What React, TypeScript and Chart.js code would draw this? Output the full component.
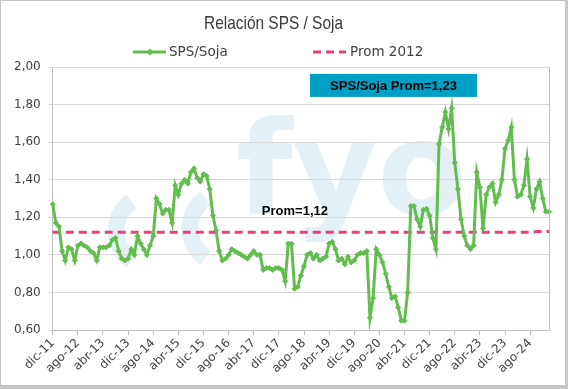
import React, { useEffect, useRef } from 'react';
import { Chart, registerables } from 'chart.js';

Chart.register(...registerables);

const monthNames = ['ene', 'feb', 'mar', 'abr', 'may', 'jun', 'jul', 'ago', 'sep', 'oct', 'nov', 'dic'];
const startMonthIndex = 11; // dic
const startYear = 11; // 2011

// Relación SPS / Soja, mensual desde dic-11
const spsSoja = [
  1.27, 1.17, 1.15, 1.02, 0.97, 1.04, 1.03, 0.97,
  1.05, 1.06, 1.05, 1.04, 1.02, 1.01, 0.97, 1.04,
  1.04, 1.04, 1.05, 1.08, 1.09, 1.02, 0.98, 0.97,
  0.98, 1.03, 1.00, 1.10, 1.06, 1.03, 1.00, 1.05,
  1.10, 1.30, 1.27, 1.22, 1.24, 1.24, 1.17, 1.37,
  1.32, 1.38, 1.40, 1.38, 1.44, 1.46, 1.41, 1.39,
  1.43, 1.42, 1.35, 1.21, 1.13, 1.02, 0.97, 0.98,
  1.00, 1.03, 1.02, 1.01, 1.00, 0.99, 0.98, 1.00,
  1.02, 1.00, 1.00, 0.92, 0.93, 0.93, 0.92, 0.93,
  0.93, 0.92, 0.86, 1.06, 1.06, 0.82, 0.83, 0.89,
  0.94, 1.00, 1.01, 0.98, 1.00, 0.97, 0.98, 0.99,
  1.06, 1.07, 1.03, 0.97, 0.98, 0.95, 0.99, 0.96,
  0.97, 1.00, 1.01, 1.01, 1.02, 0.665, 0.77, 1.03,
  1.00, 0.96, 0.90, 0.83, 0.77, 0.78, 0.72, 0.65,
  0.65, 0.80, 1.26, 1.26, 1.19, 1.15, 1.24, 1.245,
  1.21, 1.09, 1.03, 1.59, 1.68, 1.76, 1.67, 1.78,
  1.49, 1.35, 1.19, 1.10, 1.05, 1.03, 1.05, 1.44,
  1.36, 1.14, 1.32, 1.36, 1.38, 1.28, 1.32, 1.40,
  1.565, 1.61, 1.68, 1.40, 1.31, 1.32, 1.37, 1.51,
  1.31, 1.25, 1.35, 1.39, 1.30, 1.23, 1.23,
];

const promLevel = 1.12;
const promLevelEnd = 1.125;
const promEndFrom = 154;

const categories = spsSoja.map((_, i) => {
  const m = startMonthIndex + i;
  return `${monthNames[m % 12]}-${startYear + Math.floor(m / 12)}`;
});

const tickEvery = 8;
const tickLabels = categories.filter((_, i) => i % tickEvery === 0);
const promSeries = categories.map((_, i) => (i >= promEndFrom ? promLevelEnd : promLevel));

const yTicks = [0.6, 0.8, 1.0, 1.2, 1.4, 1.6, 1.8, 2.0];

const titleText = 'Relación SPS / Soja';
const seriesName = 'SPS/Soja';
const promName = 'Prom 2012';
const boxText = 'SPS/Soja Prom=1,23';
const promText = 'Prom=1,12';

const GREEN = '#62bd4f';
const PINK = '#e8417c';
const TEXT = '#404040';

const decorPlugin = {
  id: 'decor',
  beforeDraw(chart: any) {
    const { ctx, chartArea } = chart;
    ctx.save();
    ctx.fillStyle = '#ffffff';
    ctx.fillRect(0, 0, chart.width, chart.height);
    // watermark
    ctx.beginPath();
    ctx.rect(chartArea.left, chartArea.top, chartArea.right - chartArea.left, chartArea.bottom - chartArea.top);
    ctx.clip();
    const wm = '#e3f0f5';
    ctx.strokeStyle = wm;
    ctx.lineWidth = 17;
    ctx.beginPath();
    ctx.arc(152, 231, 36, (125 * Math.PI) / 180, (235 * Math.PI) / 180);
    ctx.stroke();
    ctx.beginPath();
    ctx.arc(226, 228, 36, (125 * Math.PI) / 180, (235 * Math.PI) / 180);
    ctx.stroke();
    ctx.fillStyle = wm;
    ctx.font = 'bold 130px "DejaVu Sans"';
    ctx.textBaseline = 'alphabetic';
    ctx.textAlign = 'left';
    ctx.fillText('fyo', 236, 214);
    ctx.restore();
  },
  afterDraw(chart: any) {
    const { ctx, chartArea, scales } = chart;
    ctx.save();
    // plot right border
    ctx.strokeStyle = '#bfbfbf';
    ctx.lineWidth = 1;
    ctx.beginPath();
    ctx.moveTo(Math.round(chartArea.right) + 0.5, chartArea.top);
    ctx.lineTo(Math.round(chartArea.right) + 0.5, chartArea.bottom);
    ctx.stroke();

    // title
    ctx.fillStyle = '#3a3a3a';
    ctx.font = '18.5px "Liberation Sans Narrow", "Liberation Sans", sans-serif';
    ctx.textBaseline = 'alphabetic';
    const tw = ctx.measureText(titleText).width;
    const target = 139;
    const sx = tw > target ? target / tw : 1;
    ctx.save();
    ctx.translate(273.5 - (tw * sx) / 2, 28.5);
    ctx.scale(sx, 1);
    ctx.fillText(titleText, 0, 0);
    ctx.restore();

    // legend
    const ly = 52;
    ctx.font = '13.5px "DejaVu Sans"';
    ctx.textBaseline = 'middle';
    ctx.fillStyle = TEXT;
    ctx.strokeStyle = GREEN;
    ctx.lineWidth = 3;
    ctx.beginPath();
    ctx.moveTo(133, ly);
    ctx.lineTo(166, ly);
    ctx.stroke();
    ctx.fillStyle = GREEN;
    ctx.beginPath();
    ctx.moveTo(150, ly - 3.5);
    ctx.lineTo(153.5, ly);
    ctx.lineTo(150, ly + 3.5);
    ctx.lineTo(146.5, ly);
    ctx.closePath();
    ctx.fill();
    ctx.fillStyle = TEXT;
    ctx.fillText(seriesName, 169, ly);
    ctx.strokeStyle = PINK;
    ctx.setLineDash([8, 5]);
    ctx.beginPath();
    ctx.moveTo(313, ly);
    ctx.lineTo(346, ly);
    ctx.stroke();
    ctx.setLineDash([]);
    ctx.fillText(promName, 350, ly);

    // annotations anchored on data coordinates
    const xS = scales.x;
    const yS = scales.y;
    const bx = xS.getPixelForValue(108.5);
    const by = yS.getPixelForValue(1.902);
    ctx.fillStyle = '#00a0c6';
    ctx.fillRect(bx - 83.5, by - 11.5, 167, 23);
    ctx.fillStyle = '#000000';
    ctx.font = 'bold 13px "Liberation Sans", Arial, sans-serif';
    ctx.textAlign = 'center';
    ctx.fillText(boxText, bx, by + 1);
    const px = xS.getPixelForValue(77.1);
    const py = yS.getPixelForValue(1.239);
    ctx.fillText(promText, px, py + 1);

    // outer frame
    ctx.strokeStyle = '#c4c4c4';
    ctx.lineWidth = 1;
    ctx.strokeRect(0.5, 0.5, 565, 385);
    ctx.fillStyle = '#c8c8c8';
    ctx.fillRect(565, 0, 3, 389);
    ctx.fillRect(0, 386, 568, 3);
    ctx.restore();
  },
};

export default function App() {
  const ref = useRef<HTMLCanvasElement | null>(null);
  useEffect(() => {
    document.body.style.margin = '0';
    if (!ref.current) return;
    const chart = new Chart(ref.current, {
      type: 'line',
      data: {
        labels: categories,
        datasets: [
          {
            label: seriesName,
            data: spsSoja,
            borderColor: GREEN,
            backgroundColor: GREEN,
            borderWidth: 3,
            pointStyle: 'rectRot',
            pointRadius: 2.5,
            pointBackgroundColor: GREEN,
            pointBorderColor: GREEN,
            pointBorderWidth: 1,
            tension: 0,
          },
          {
            label: promName,
            data: promSeries,
            borderColor: PINK,
            backgroundColor: PINK,
            borderWidth: 3,
            borderDash: [8, 5],
            pointRadius: 0,
            tension: 0,
          },
        ],
      },
      options: {
        responsive: false,
        animation: false,
        layout: { padding: { top: 67, left: 6, right: 19, bottom: 12 } },
        plugins: {
          legend: { display: false },
          title: { display: false },
          tooltip: { enabled: false },
        },
        scales: {
          x: {
            type: 'category',
            offset: false,
            grid: {
              drawOnChartArea: false,
              drawTicks: true,
              tickLength: 5,
              color: (c: any) => (c.index % tickEvery === 0 ? '#bfbfbf' : 'rgba(0,0,0,0)'),
            },
            border: { color: '#bfbfbf' },
            ticks: {
              autoSkip: false,
              maxRotation: 45,
              minRotation: 45,
              padding: 1,
              color: TEXT,
              font: { size: 12, family: '"DejaVu Sans"' },
              callback: (_v: any, i: number) => (i % tickEvery === 0 ? tickLabels[i / tickEvery] : ''),
            },
          },
          y: {
            min: 0.6,
            max: 2.0,
            afterBuildTicks: (s: any) => {
              s.ticks = yTicks.map((v) => ({ value: v }));
            },
            grid: { color: '#d9d9d9', tickLength: 4, drawTicks: true },
            border: { color: '#bfbfbf' },
            ticks: {
              padding: 8,
              color: TEXT,
              font: { size: 12, family: '"DejaVu Sans"' },
              callback: (v: any) => Number(v).toFixed(2).replace('.', ','),
            },
          },
        },
      },
      plugins: [decorPlugin],
    });
    return () => chart.destroy();
  }, []);
  return (
    <div style={{ width: 568, height: 389 }}>
      <canvas ref={ref} width={568} height={389} />
    </div>
  );
}
